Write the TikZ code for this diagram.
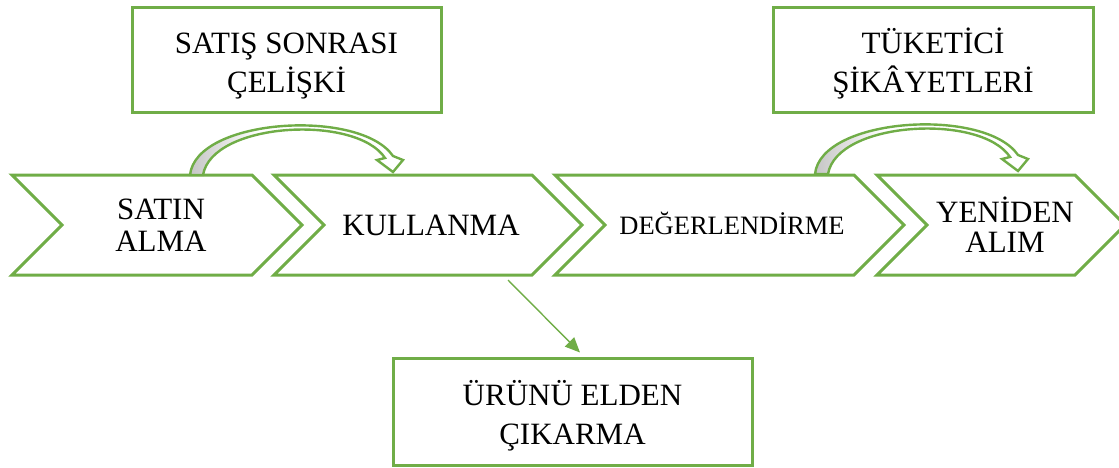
\documentclass[tikz,border=0pt]{standalone}
\usepackage{fontspec}
\setmainfont{Liberation Serif}
\usetikzlibrary{arrows.meta}
\definecolor{leaf}{HTML}{70AD47}

\tikzset{
  outline/.style={draw=leaf, line width=3pt, line join=miter},
  stagetext/.style={font=\fontsize{31}{32}\selectfont, align=center, inner sep=0pt},
  notebox/.style={draw=leaf, line width=3pt, fill=white, align=center, inner sep=0pt,
    text height=72pt, text depth=7pt, font=\fontsize{31}{39}\selectfont},
  flowarrow/.style={draw=leaf, line width=1.4pt, -{Triangle[length=15pt,width=13pt]}},
  % ribbon-like bent arrow, measured from the left foot of its base
  ribbon/.style={insert path={
    (0,0) .. controls (6,-57) and (170,-67) .. (203,-19)
    -- (213,-15) -- (203,-3) -- (187,-15) -- (195,-17)
    .. controls (166,-61) and (22,-53) .. (13,0) -- cycle}},
  pics/bentarrow/.style={code={
    \begin{scope}
      \path[clip, ribbon];
      \fill[white] (-5,-75) rectangle (220,5);
      \shade[left color=gray!45, right color=white] (0,-75) rectangle (70,5);
    \end{scope}
    \draw[leaf, line width=2.4pt, line join=miter, ribbon];
  }}
}

\begin{document}
\begin{tikzpicture}[x=1pt, y=-1pt]
\useasboundingbox (0,0) rectangle (1119,467);

% chevron outlines of the four stages
\foreach \l/\r in {12/252, 274/532, 555/854, 877/1075}
  \draw[outline] (\l,175) -- (\r,175) -- (\r+50,225) -- (\r,275)
    -- (\l,275) -- (\l+50,225) -- cycle;

% stage labels
\node[stagetext] (buy) at (161,225) {SATIN\\ALMA};
\node[stagetext, anchor=base] (use) at (431,235) {KULLANMA};
\node[stagetext, font=\fontsize{26.5}{28}\selectfont, anchor=base] (eval) at (732,234) {DEĞERLENDİRME};
\node[stagetext, font=\fontsize{31}{30}\selectfont] (rebuy) at (1005,225) {YENİDEN\\ALIM};

% side notes
\node[notebox, minimum width=309pt, minimum height=105pt] (doubt) at (286.5,59.5) {SATIŞ SONRASI\\ÇELİŞKİ};
\node[notebox, minimum width=320pt, minimum height=105pt] (complain) at (933,59.5) {TÜKETİCİ\\ŞİKÂYETLERİ};
\node[notebox, minimum width=359pt, minimum height=107pt] (dispose) at (572.5,411.5) {ÜRÜNÜ ELDEN\\ÇIKARMA};

% bent arrows between neighbouring stages
\pic at (190,175) {bentarrow};
\pic at (815,174) {bentarrow};

% from usage to disposal
\coordinate (usefoot) at (508,280);
\draw[flowarrow] (usefoot) -- ([shift={(7.5,-4)}]dispose.north);
\end{tikzpicture}
\end{document}
